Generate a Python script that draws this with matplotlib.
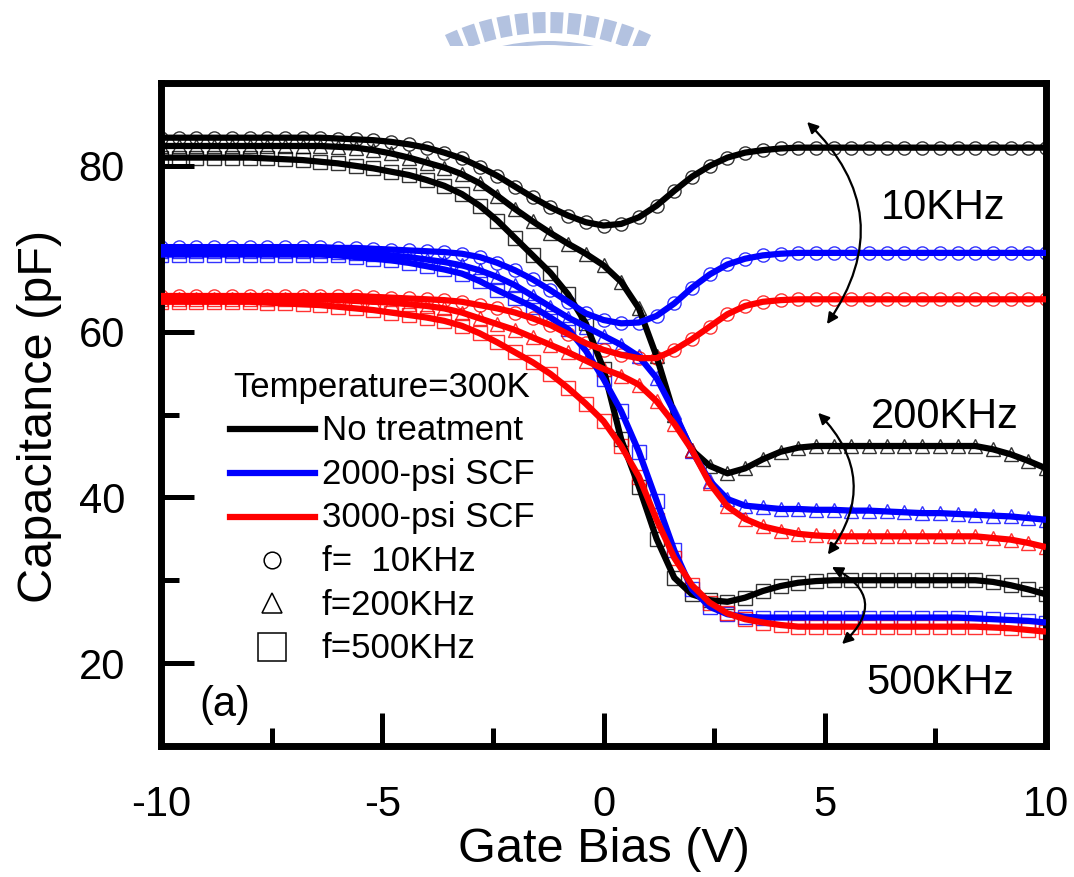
import numpy as np
import matplotlib
matplotlib.use("Agg")
import matplotlib.pyplot as plt
from matplotlib.patches import Wedge
from matplotlib.lines import Line2D

plt.rcParams['font.family'] = ['Liberation Sans', 'DejaVu Sans']

# ---------------- data ----------------
bias = [-10.0, -9.6, -9.2, -8.8, -8.4, -8.0, -7.6, -7.2, -6.8, -6.4,
        -6.0, -5.6, -5.2, -4.8, -4.4, -4.0, -3.6, -3.2, -2.8, -2.4,
        -2.0, -1.6, -1.2, -0.8, -0.4, 0.0, 0.4, 0.8, 1.2, 1.6,
        2.0, 2.4, 2.8, 3.2, 3.6, 4.0, 4.4, 4.8, 5.2, 5.6,
        6.0, 6.4, 6.8, 7.2, 7.6, 8.0, 8.4, 8.8, 9.2, 9.6, 10.0]

# No treatment
none_10k = [83.4, 83.4, 83.4, 83.4, 83.4, 83.4, 83.4, 83.4, 83.4, 83.4,
            83.3, 83.2, 83.1, 82.9, 82.6, 82.2, 81.6, 80.9, 79.9, 78.8,
            77.5, 76.2, 75.0, 74.0, 73.2, 72.8, 73.0, 73.8, 75.2, 77.0,
            78.7, 80.0, 81.0, 81.6, 81.9, 82.1, 82.2, 82.2, 82.2, 82.2,
            82.2, 82.2, 82.2, 82.2, 82.2, 82.2, 82.2, 82.2, 82.2, 82.2, 82.2]
none_200k = [82.4, 82.4, 82.4, 82.4, 82.4, 82.4, 82.4, 82.4, 82.4, 82.4,
             82.3, 82.2, 81.9, 81.5, 81.0, 80.4, 79.8, 79.0, 77.9, 76.4,
             74.8, 73.3, 71.9, 70.6, 69.4, 68.0, 66.0, 62.8, 57.0, 50.0,
             45.7, 43.8, 42.9, 43.5, 44.6, 45.5, 46.0, 46.2, 46.2, 46.2,
             46.2, 46.2, 46.2, 46.2, 46.2, 46.2, 46.2, 45.8, 45.2, 44.4, 43.5]
none_500k = [81.0, 81.0, 81.0, 81.0, 81.0, 81.0, 80.9, 80.8, 80.7, 80.5,
             80.3, 80.0, 79.7, 79.3, 78.9, 78.3, 77.6, 76.6, 75.2, 73.4,
             71.3, 69.2, 67.1, 64.5, 61.0, 55.5, 47.0, 41.3, 35.0, 30.3,
             28.3, 27.6, 27.4, 27.9, 28.7, 29.3, 29.7, 29.9, 30.0, 30.0,
             30.0, 30.0, 30.0, 30.0, 30.0, 30.0, 30.0, 29.8, 29.4, 28.9, 28.3]

# 2000-psi SCF
scf2_10k = [70.2, 70.2, 70.2, 70.2, 70.2, 70.2, 70.2, 70.2, 70.2, 70.2,
            70.1, 70.1, 70.0, 69.9, 69.8, 69.7, 69.6, 69.4, 69.0, 68.3,
            67.4, 66.3, 65.0, 63.6, 62.2, 61.4, 61.0, 61.1, 61.9, 63.4,
            65.3, 66.9, 68.1, 68.8, 69.2, 69.4, 69.5, 69.5, 69.5, 69.5,
            69.5, 69.5, 69.5, 69.5, 69.5, 69.5, 69.5, 69.5, 69.5, 69.5, 69.5]
scf2_200k = [69.7, 69.7, 69.7, 69.7, 69.7, 69.7, 69.7, 69.7, 69.7, 69.7,
             69.6, 69.5, 69.4, 69.2, 69.0, 68.7, 68.4, 68.0, 67.4, 66.6,
             65.6, 64.3, 63.0, 61.7, 60.6, 59.5, 58.4, 57.0, 54.4, 50.3,
             45.6, 42.0, 39.8, 39.0, 38.8, 38.6, 38.6, 38.5, 38.5, 38.4,
             38.4, 38.3, 38.2, 38.1, 38.1, 38.0, 37.9, 37.8, 37.7, 37.5, 37.3]
scf2_500k = [69.3, 69.3, 69.3, 69.3, 69.3, 69.3, 69.3, 69.3, 69.3, 69.3,
             69.2, 69.0, 68.8, 68.6, 68.3, 67.9, 67.5, 67.0, 66.1, 65.0,
             64.0, 63.0, 61.7, 60.3, 57.7, 54.3, 50.4, 45.5, 39.6, 33.6,
             28.9, 26.8, 25.9, 25.6, 25.5, 25.5, 25.5, 25.5, 25.5, 25.5,
             25.5, 25.5, 25.5, 25.5, 25.5, 25.5, 25.4, 25.3, 25.2, 25.1, 24.9]

# 3000-psi SCF
scf3_10k = [64.3, 64.3, 64.3, 64.3, 64.3, 64.3, 64.3, 64.3, 64.3, 64.3,
            64.3, 64.3, 64.2, 64.1, 64.0, 63.9, 63.8, 63.6, 63.2, 62.8,
            62.3, 61.6, 60.8, 59.7, 58.6, 57.8, 57.2, 56.8, 56.8, 57.8,
            59.1, 60.6, 62.1, 63.1, 63.6, 63.8, 63.9, 63.9, 63.9, 63.9,
            63.9, 63.9, 63.9, 63.9, 63.9, 63.9, 63.9, 63.9, 63.9, 63.9, 63.9]
scf3_200k = [63.9, 63.9, 63.9, 63.9, 63.9, 63.9, 63.9, 63.9, 63.9, 63.9,
             63.8, 63.7, 63.6, 63.5, 63.3, 63.1, 62.8, 62.3, 61.6, 60.9,
             60.2, 59.3, 58.4, 57.5, 56.5, 55.5, 54.7, 53.6, 51.6, 48.9,
             45.7, 41.7, 38.9, 37.4, 36.5, 36.0, 35.6, 35.4, 35.3, 35.3,
             35.3, 35.3, 35.3, 35.3, 35.3, 35.3, 35.3, 35.1, 34.9, 34.5, 34.0]
scf3_500k = [63.6, 63.6, 63.6, 63.6, 63.6, 63.6, 63.5, 63.4, 63.3, 63.2,
             63.0, 62.8, 62.6, 62.3, 62.0, 61.7, 61.3, 60.7, 59.8, 58.7,
             57.5, 56.3, 54.9, 53.2, 51.3, 49.2, 46.2, 42.5, 37.3, 32.7,
             29.4, 27.3, 26.0, 25.3, 24.9, 24.6, 24.4, 24.4, 24.4, 24.4,
             24.4, 24.4, 24.4, 24.4, 24.4, 24.4, 24.4, 24.3, 24.2, 24.0, 23.8]

treatments = ['No treatment', '2000-psi SCF', '3000-psi SCF']
treatment_colors = ['#000000', '#0000FF', '#FF0000']
freq_labels = ['f=  10KHz', 'f=200KHz', 'f=500KHz']
freq_markers = ['o', '^', 's']
series = [[none_10k, none_200k, none_500k],
          [scf2_10k, scf2_200k, scf2_500k],
          [scf3_10k, scf3_200k, scf3_500k]]

x_ticks = [-10, -5, 0, 5, 10]
y_ticks = [20, 40, 60, 80]

# ---------------- figure ----------------
W, H = 1074, 877
fig = plt.figure(figsize=(W / 100, H / 100), dpi=100)

# faint logo watermark at the top (cropped)
axw = fig.add_axes([0, 1 - 46 / H, 1, 46 / H])
axw.set_xlim(0, W)
axw.set_ylim(46, 0)
axw.axis('off')
wm = '#B3C2E0'
for k in range(12):
    c = 270 + 4.3 * (k - 5.5)
    axw.add_patch(Wedge((548, 254), 242, c - 1.55, c + 1.55, width=21,
                        facecolor=wm, edgecolor='none'))
axw.add_patch(Wedge((548, 254), 213, 240, 300, width=4,
                    facecolor=wm, edgecolor='none'))

L, R, T, B = 161, 1046, 83, 746
ax = fig.add_axes([L / W, 1 - B / H, (R - L) / W, (B - T) / H])
ax.set_xlim(-10, 10)
ax.set_ylim(10, 90)

# markers first, then fitted lines on top
for ci, col in enumerate(treatment_colors):
    for fi, mk in enumerate(freq_markers):
        ms = 10.5 if mk == '^' else 9.5
        ax.plot(bias, series[ci][fi], linestyle='none', marker=mk, ms=ms,
                mfc='none', mec=col, mew=1.0, alpha=0.8, zorder=2)
for ci, col in enumerate(treatment_colors):
    for fi in range(3):
        ax.plot(bias, series[ci][fi], color=col, lw=4.5, zorder=3,
                solid_capstyle='butt')

# spines / ticks
for s in ax.spines.values():
    s.set_linewidth(5)
ax.set_xticks(x_ticks)
ax.set_yticks(y_ticks)
ax.set_xticks([-7.5, -2.5, 2.5, 7.5], minor=True)
ax.set_yticks([30, 50, 70], minor=True)
ax.tick_params(which='major', direction='in', length=24, width=3.6)
ax.tick_params(which='minor', direction='in', length=13, width=3.6)
ax.tick_params(axis='y', which='both', labelsize=30, pad=26)
ax.tick_params(axis='x', which='both', labelsize=30, pad=28)
ax.set_xticklabels([str(v) for v in x_ticks])
ax.set_yticklabels([str(v) for v in y_ticks])

fig.text(39 / W, 1 - 416 / H, 'Capacitance (pF)', rotation=90,
         ha='center', va='center', fontsize=35)
fig.text(604 / W, 1 - 850 / H, 'Gate Bias (V)', ha='center', va='center',
         fontsize=35)

# frequency annotations with curved double arrows
arrows = [((4.60, 85.3), (5.05, 60.9), -0.42),
          ((4.85, 50.2), (5.07, 33.1), -0.42),
          ((5.16, 31.6), (5.39, 22.3), -0.70)]
for top, bot, rad in arrows:
    ax.annotate('', xy=bot, xytext=top,
                arrowprops=dict(arrowstyle='<|-|>', color='k', lw=1.6,
                                mutation_scale=16, shrinkA=0, shrinkB=0,
                                connectionstyle='arc3,rad=%s' % rad),
                zorder=5)
ax.text(7.67, 73.6, '10KHz', fontsize=30, ha='center', va='baseline')
ax.text(7.72, 48.4, '200KHz', fontsize=30, ha='center', va='baseline')
ax.text(7.60, 16.3, '500KHz', fontsize=30, ha='center', va='baseline')
ax.text(-8.55, 13.6, '(a)', fontsize=30, ha='center', va='baseline')

# hand-made legend
def fx(px):
    return (px - L) / (R - L)

def fy(py):
    return (B - py) / (B - T)

ax.text(fx(233), fy(397), 'Temperature=300K', transform=ax.transAxes,
        fontsize=25, ha='left', va='baseline')
line_y = [429, 473, 517]
text_y = [440, 484, 527]
for i, (name, col) in enumerate(zip(treatments, treatment_colors)):
    ax.add_line(Line2D([fx(230), fx(315)], [fy(line_y[i]), fy(line_y[i])],
                       transform=ax.transAxes, color=col, lw=4.5))
    ax.text(fx(322), fy(text_y[i]), name, transform=ax.transAxes,
            fontsize=25, ha='left', va='baseline')
mk_y = [560, 603, 647]
mk_text_y = [571, 615, 658]
mk_size = [12, 14, 20]
for i, (lab, mk) in enumerate(zip(freq_labels, freq_markers)):
    ax.add_line(Line2D([fx(272)], [fy(mk_y[i])], transform=ax.transAxes,
                       linestyle='none', marker=mk, ms=mk_size[i], mfc='none',
                       mec='k', mew=1.1))
    ax.text(fx(322), fy(mk_text_y[i]), lab, transform=ax.transAxes,
            fontsize=25, ha='left', va='baseline')

fig.savefig('out.png', dpi=100)
